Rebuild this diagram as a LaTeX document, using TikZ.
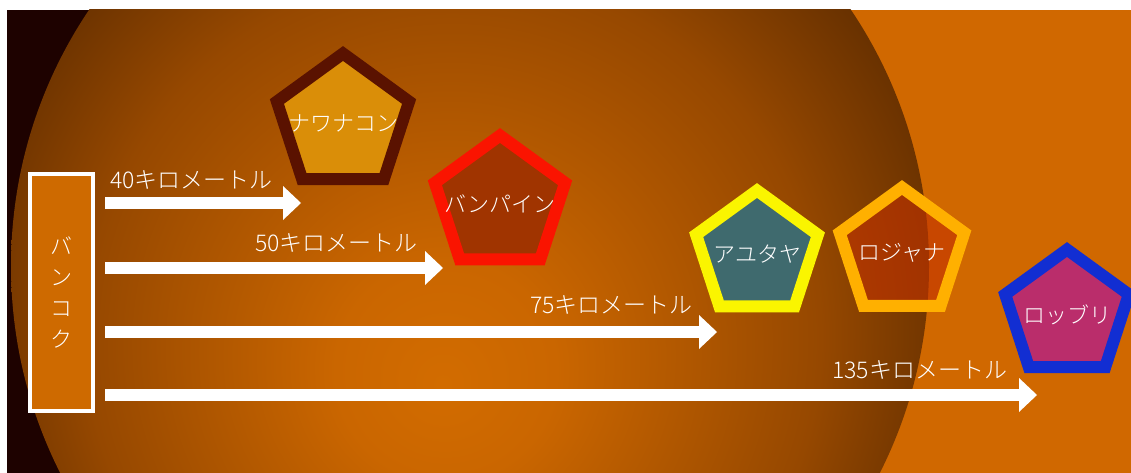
\documentclass[tikz,border=0pt]{standalone}
\usepackage{fontspec}
\IfFontExistsTF{Noto Sans CJK JP Light}
  {\newfontfamily\jp{Noto Sans CJK JP Light}}
  {\newfontfamily\jp{Noto Sans CJK JP}}
\usetikzlibrary{shapes.geometric,arrows.meta}
\definecolor{bgdark}{RGB}{30,2,0}
\definecolor{bgorange}{RGB}{208,104,0}
\definecolor{ballin}{RGB}{210,108,0}
\definecolor{ballA}{RGB}{202,102,0}
\definecolor{ballB}{RGB}{150,72,0}
\definecolor{ballC}{RGB}{100,47,0}
\definecolor{ballout}{RGB}{70,30,0}
\definecolor{bkfill}{RGB}{206,106,0}
\definecolor{pAd}{RGB}{90,18,0}
\definecolor{pAf}{RGB}{218,142,8}
\definecolor{pBd}{RGB}{250,20,0}
\definecolor{pBf}{RGB}{160,52,0}
\definecolor{pCd}{RGB}{250,245,0}
\definecolor{pCf}{RGB}{63,106,110}
\definecolor{pDd}{RGB}{255,176,0}
\definecolor{pDf}{RGB}{195,50,0}
\definecolor{pEd}{RGB}{18,46,210}
\definecolor{pEf}{RGB}{186,45,107}
\pgfdeclareradialshading{ball}{\pgfpoint{-1.5bp}{-6.5bp}}{color(0bp)=(ballin); color(6bp)=(ballA); color(20bp)=(ballB); color(28bp)=(ballC); color(35bp)=(ballout); color(50bp)=(ballout)}
\tikzset{
  pent/.style={regular polygon, regular polygon sides=5, inner sep=0pt, outer sep=0pt,
    line width=12pt, text=white, font=\jp\fontsize{22}{26}\selectfont},
  lab/.style={anchor=west, text=white, inner sep=0pt, font=\jp\fontsize{23}{27}\selectfont},
  road/.style={draw=white, line width=12pt, -{Triangle[length=18pt,width=34pt,line width=0pt]}},
  bkkbox/.style={draw=white, line width=4pt, fill=bkfill, text=white, align=center,
    inner sep=0pt, font=\jp\fontsize{22}{31}\selectfont}
}
\begin{document}
\begin{tikzpicture}[x=1pt,y=-1pt]
\useasboundingbox (0,0) rectangle (1131,473);
\fill[white] (0,0) rectangle (1131,473);
\begin{scope}
  \clip (7,10) rectangle (1131,473);
  \fill[bgdark] (7,10) rectangle (470,473);
  \fill[bgorange] (470,10) rectangle (1131,473);
  \shade[shading=ball] (470,266) circle[radius=459];
\end{scope}

\node[bkkbox, minimum width=63pt, minimum height=237pt] (bkk) at (61.5,292.5) {バ\\ン\\コ\\ク};

\node[pent, draw=pAd, fill=pAf, minimum size=139pt] (nawa) at (343,123) {\makebox[0pt]{ナワナコン}};
\node[pent, draw=pBd, fill=pBf, minimum size=137pt] (bang) at (500,204) {\makebox[0pt]{バンパイン}};
\node[pent, draw=pCd, fill=pCf, minimum size=128pt] (ayut) at (757,254.5) {\makebox[0pt]{アユタヤ}};
\node[pent, draw=pDd, fill=pDf, fill opacity=0.6, text opacity=1, minimum size=131pt] (roja) at (902,253) {\makebox[0pt]{ロジャナ}};
\node[pent, draw=pEd, fill=pEf, minimum size=130pt] (lopb) at (1067,314.5) {\makebox[0pt]{ロッブリ}};

\coordinate (e1) at (301,203);
\coordinate (e2) at (443,268);
\coordinate (e3) at (717,332);
\coordinate (e4) at (1037,395);
\coordinate (s1) at ([xshift=10pt]bkk.east |- e1);
\coordinate (s2) at ([xshift=10pt]bkk.east |- e2);
\coordinate (s3) at ([xshift=10pt]bkk.east |- e3);
\coordinate (s4) at ([xshift=10pt]bkk.east |- e4);
\draw[road] (s1) -- (e1);
\draw[road] (s2) -- (e2);
\draw[road] (s3) -- (e3);
\draw[road] (s4) -- (e4);

\node[lab] (l1) at (110,180) {40キロメートル};
\node[lab] (l2) at (255,243) {50キロメートル};
\node[lab] (l3) at (530,305) {75キロメートル};
\node[lab] (l4) at (832,370) {135キロメートル};
\end{tikzpicture}
\end{document}
